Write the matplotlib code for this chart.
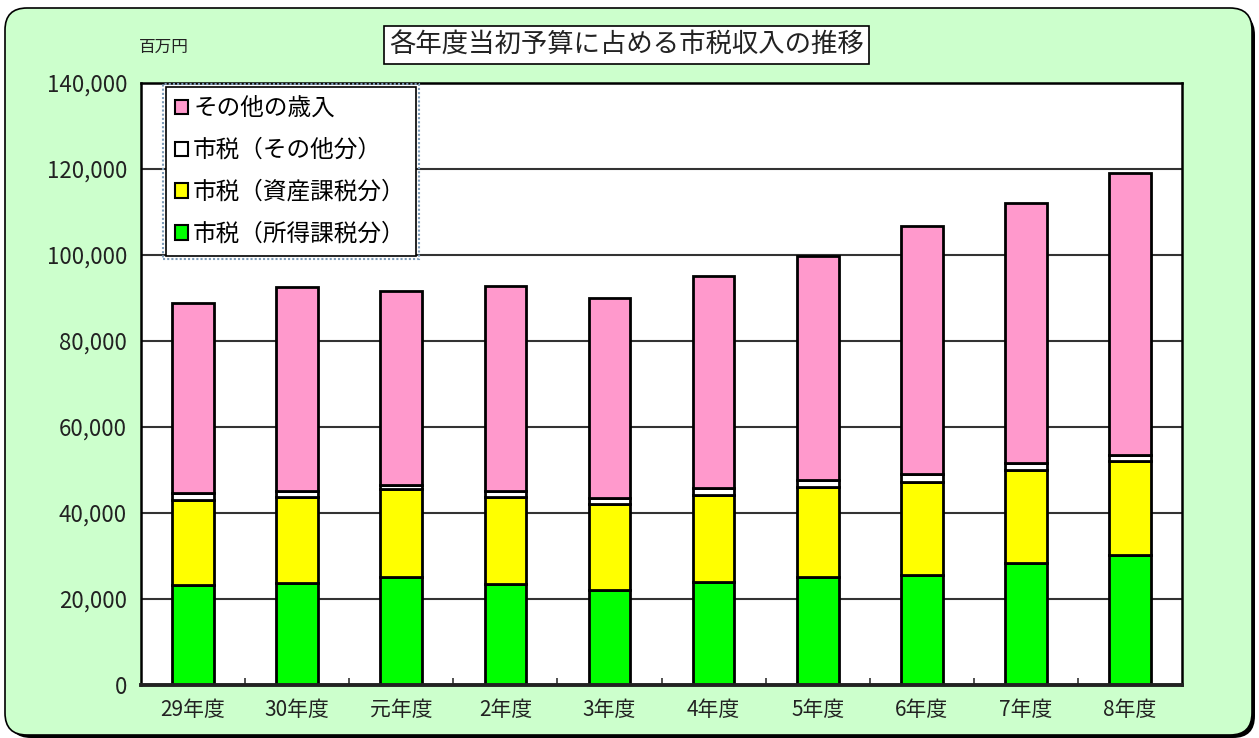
import numpy as np
import matplotlib.pyplot as plt
from matplotlib.patches import FancyBboxPatch, Patch, Rectangle
from matplotlib.ticker import FuncFormatter, FixedLocator

plt.rcParams['font.family'] = ['Noto Sans CJK JP', 'DejaVu Sans']

# 単位：百万円
years = ['29年度', '30年度', '元年度', '2年度', '3年度', '4年度', '5年度', '6年度', '7年度', '8年度']
shotoku = [23200, 23800, 25200, 23600, 22100, 24000, 25200, 25600, 28300, 30200]
shisan = [19800, 20000, 20300, 20200, 20000, 20300, 20900, 21600, 21800, 22000]
sonota_zei = [1600, 1400, 1100, 1400, 1500, 1500, 1600, 1800, 1600, 1400]
sonota_sainyu = [44200, 47300, 45100, 47600, 46400, 49300, 52100, 57700, 60500, 65500]

fig = plt.figure(figsize=(12.59, 7.38), dpi=100)
fig.patch.set_facecolor('white')

# 角丸の背景（影つき）
shadow = FancyBboxPatch((0.09, 0.0), 12.46, 7.25, boxstyle='round,pad=0,rounding_size=0.22',
                        transform=fig.dpi_scale_trans, facecolor='black', edgecolor='none', zorder=-3)
back = FancyBboxPatch((0.05, 0.03), 12.47, 7.27, boxstyle='round,pad=0,rounding_size=0.22',
                      transform=fig.dpi_scale_trans, facecolor='#CCFFCC', edgecolor='black',
                      linewidth=1.2, zorder=-2)
fig.add_artist(shadow)
fig.add_artist(back)

ax = fig.add_axes([0.112, 0.0718, 0.8269, 0.8157])
ax.set_facecolor('white')

x = np.arange(len(years))
w = 0.4
edge = dict(edgecolor='black', linewidth=2)
ax.bar(x, shotoku, w, color='#00FF00', **edge)
base = np.array(shotoku)
ax.bar(x, shisan, w, bottom=base, color='#FFFF00', **edge)
base = base + np.array(shisan)
ax.bar(x, sonota_zei, w, bottom=base, color='white', **edge)
base = base + np.array(sonota_zei)
ax.bar(x, sonota_sainyu, w, bottom=base, color='#FF99CC', **edge)

ax.set_xlim(-0.5, len(years) - 0.5)
ax.set_ylim(0, 140000)
ax.set_yticks(np.arange(0, 140001, 20000))
ax.yaxis.set_major_formatter(FuncFormatter(lambda v, p: f'{v:,.0f}'))
ax.yaxis.grid(True, color='#333333', linewidth=1.5)
ax.set_axisbelow(True)
ax.tick_params(axis='y', length=0, pad=10, labelsize=16, labelcolor='#222222')

ax.set_xticks(x)
ax.set_xticklabels(years)
ax.tick_params(axis='x', which='major', length=0, pad=10, labelsize=15, labelcolor='#222222')
ax.xaxis.set_minor_locator(FixedLocator(np.arange(0.5, len(years) - 1, 1)))
ax.tick_params(axis='x', which='minor', direction='in', length=5, width=1.2, color='#333333')

for s in ['left', 'right', 'top']:
    ax.spines[s].set_linewidth(1.8)
    ax.spines[s].set_color('black')
ax.spines['bottom'].set_linewidth(2.8)
ax.spines['bottom'].set_color('#222222')

handles = [
    Patch(facecolor='#FF99CC', edgecolor='black', linewidth=1.5, label='その他の歳入'),
    Patch(facecolor='white', edgecolor='black', linewidth=1.5, label='市税（その他分）'),
    Patch(facecolor='#FFFF00', edgecolor='black', linewidth=1.5, label='市税（資産課税分）'),
    Patch(facecolor='#00FF00', edgecolor='black', linewidth=1.5, label='市税（所得課税分）'),
]
leg = ax.legend(handles=handles, loc='upper left', bbox_to_anchor=(0.0236, 0.993),
                fontsize=17, frameon=True, fancybox=False, edgecolor='black',
                handlelength=0.55, handleheight=0.55, handletextpad=0.2,
                labelspacing=0.8, borderpad=0.42, borderaxespad=0)
leg.get_frame().set_linewidth(1.2)
leg.get_frame().set_facecolor('white')
leg.get_frame().set_alpha(1)

# 凡例まわりの点線枠
fig.canvas.draw()
bb = leg.get_window_extent().transformed(fig.transFigure.inverted())
px, py = 3 / 1259, 3 / 738
fig.add_artist(Rectangle((bb.x0 - px, bb.y0 - py), bb.width + 2 * px, bb.height + 2 * py,
                         transform=fig.transFigure, fill=False, edgecolor='#7F9DB9',
                         linestyle=(0, (1, 1)), linewidth=1.5, zorder=10))

fig.text(0.4976, 0.939, '各年度当初予算に占める市税収入の推移', ha='center', va='center',
         fontsize=19, color='#222222',
         bbox=dict(facecolor='white', edgecolor='black', linewidth=1.2, boxstyle='square,pad=0.2'))
fig.text(0.13, 0.936, '百万円', ha='center', va='center', fontsize=12, color='#222222')

fig.savefig('out.png', dpi=100, facecolor=fig.get_facecolor())
